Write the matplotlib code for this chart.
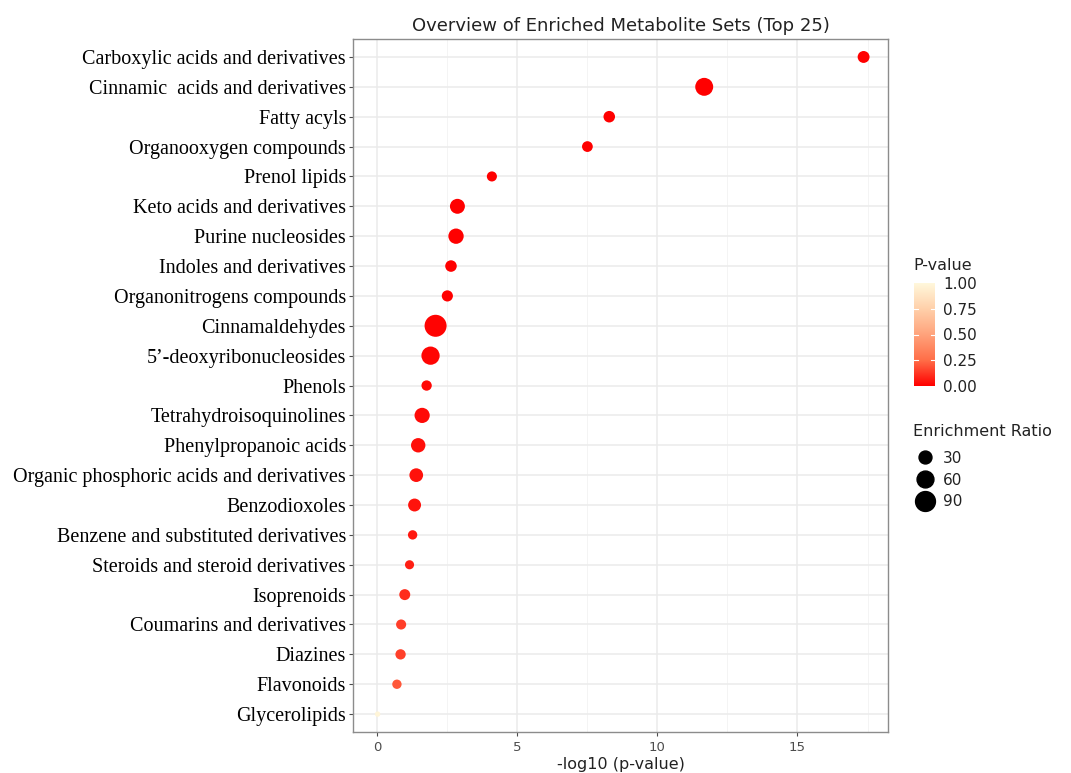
import numpy as np
import matplotlib
matplotlib.use("Agg")
import matplotlib.pyplot as plt
from matplotlib.colors import LinearSegmentedColormap
from matplotlib.lines import Line2D

# metabolite sets, top to bottom
sets = ["Carboxylic acids and derivatives", "Cinnamic  acids and derivatives",
        "Fatty acyls", "Organooxygen compounds", "Prenol lipids",
        "Keto acids and derivatives", "Purine nucleosides", "Indoles and derivatives",
        "Organonitrogens compounds", "Cinnamaldehydes", "5\u2019-deoxyribonucleosides",
        "Phenols", "Tetrahydroisoquinolines", "Phenylpropanoic acids",
        "Organic phosphoric acids and derivatives", "Benzodioxoles",
        "Benzene and substituted derivatives", "Steroids and steroid derivatives",
        "Isoprenoids", "Coumarins and derivatives", "Diazines", "Flavonoids",
        "Glycerolipids"]
neglogp = [17.36, 11.67, 8.28, 7.50, 4.09, 2.86, 2.81, 2.63, 2.50, 2.08, 1.90,
           1.76, 1.60, 1.46, 1.39, 1.33, 1.26, 1.15, 0.98, 0.85, 0.83, 0.70, 0.01]
enrich = [24, 70, 22, 18, 15, 44, 47, 22, 20, 115, 73, 16, 46, 40, 35, 30,
          12, 11, 19, 15, 16, 12, 2]
legend_sizes = [30, 60, 90]

x = np.array(neglogp)
pval = 10 ** (-x)
er = np.array(enrich, dtype=float)
y = np.arange(len(sets))[::-1]

cmap = LinearSegmentedColormap.from_list(
    "pv", [(0, "#FF0000"), (0.25, "#FF6E48"), (0.5, "#FFA37C"),
           (0.75, "#FFD0AA"), (1, "#FFF8DC")])
vmin, vmax = 1.0, er.max()

def diam_pt(v):
    # ggplot-like area scale, 1..6 mm
    px = 3.67 * (1 + 5 * np.sqrt((np.asarray(v, float) - vmin) / (vmax - vmin)))
    return px * 0.72

fig = plt.figure(figsize=(10.71, 7.73), dpi=100)
ax = fig.add_axes([0.3296, 0.0530, 0.4995, 0.8965])

ax.scatter(x, y, s=diam_pt(er) ** 2, c=pval, cmap=cmap, vmin=0, vmax=1,
           edgecolors="none", zorder=3)

ax.set_xlim(-0.868, 18.23)
ax.set_ylim(-0.6, len(sets) - 0.4)
ax.set_xticks([0, 5, 10, 15])
ax.set_xticks([2.5, 7.5, 12.5, 17.5], minor=True)
ax.set_yticks(y)
ax.set_yticklabels(sets, fontfamily="Liberation Serif", fontsize=14.5, color="black")
ax.tick_params(axis="x", labelsize=9.5, colors="#4D4D4D", length=3, width=0.8)
ax.tick_params(axis="y", length=3, width=0.8, color="#4D4D4D", pad=2)
ax.tick_params(axis="x", which="minor", length=0)
ax.grid(which="major", color="#EBEBEB", lw=1.1, zorder=0)
ax.grid(which="minor", axis="x", color="#F2F2F2", lw=0.6, zorder=0)
ax.set_axisbelow(True)
for s in ax.spines.values():
    s.set_color("#8C8C8C")
    s.set_linewidth(1.0)

ax.set_xlabel("-log10 (p-value)", fontsize=11.5, color="#222222", labelpad=2)
ax.set_title("Overview of Enriched Metabolite Sets (Top 25)", fontsize=13,
             color="#222222", pad=6)

# colour bar legend
cax = fig.add_axes([914 / 1071, 1 - 386 / 773, 21 / 1071, 103 / 773])
grad = np.linspace(0, 1, 256).reshape(-1, 1)
cax.imshow(grad, aspect="auto", cmap=cmap, origin="lower", extent=[0, 1, 0, 1])
cax.set_xticks([])
cax.yaxis.tick_right()
cax.set_yticks([0, 0.25, 0.5, 0.75, 1.0])
cax.set_yticklabels(["0.00", "0.25", "0.50", "0.75", "1.00"])
cax.tick_params(axis="y", length=0, labelsize=11, colors="#222222", pad=6)
for t in [0.25, 0.5, 0.75]:
    cax.plot([0, 0.2], [t, t], color="white", lw=0.8)
    cax.plot([0.8, 1], [t, t], color="white", lw=0.8)
cax.set_xlim(0, 1)
cax.set_ylim(0, 1)
for s in cax.spines.values():
    s.set_visible(False)
fig.text(913 / 1071, 1 - 266 / 773, "P-value", fontsize=11.5, color="#222222",
         va="center", ha="left")

# size legend
handles = [Line2D([], [], ls="none", marker="o", color="black",
                  markersize=diam_pt(v)) for v in legend_sizes]
fig.text(913 / 1071, 1 - 432 / 773, "Enrichment Ratio", fontsize=11.5,
         color="#222222", va="center", ha="left")
leg = fig.legend(handles, [str(v) for v in legend_sizes], loc="upper left",
                 bbox_to_anchor=(908 / 1071, 1 - 443 / 773), frameon=False,
                 fontsize=11, labelspacing=0.45, handletextpad=0.6,
                 borderpad=0, handlelength=1.2)
for t in leg.get_texts():
    t.set_color("#222222")

fig.savefig("out.png", dpi=100)
